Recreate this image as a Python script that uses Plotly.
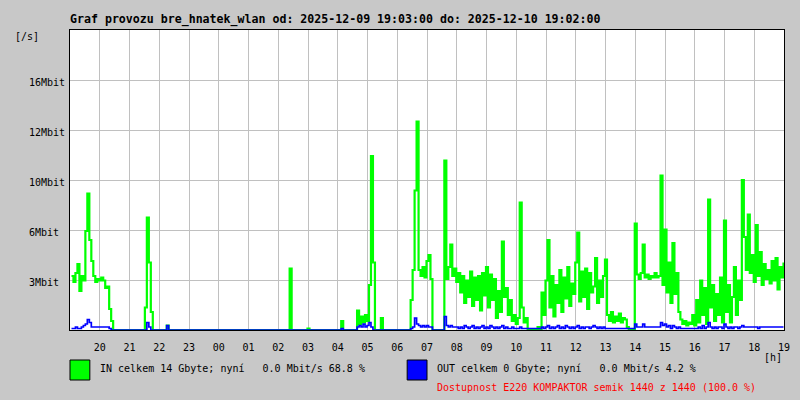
import pandas as pd
import plotly.graph_objects as go

# ---- data (Mbit/s, 4-minute samples starting 2025-12-09 19:03) ----
start_time = "2025-12-09 19:03"
sample_step = "4min"

in_mbit = [
    3.6, 3.2, 3.8, 4.4, 2.6, 3.6, 3.3, 6.6, 9.1, 6.0, 4.6, 3.6, 3.2, 3.4, 3.3, 3.5, 3.3, 2.8, 2.9, 1.4,
    0.6, 0, 0, 0, 0, 0, 0, 0, 0, 0, 0, 0, 0, 0, 0, 0, 0, 1.5, 7.5, 4.5,
    1.2, 0, 0, 0, 0, 0, 0, 0, 0.3, 0, 0, 0, 0, 0, 0, 0, 0, 0, 0, 0,
    0, 0, 0, 0, 0, 0, 0, 0, 0, 0, 0, 0, 0, 0, 0, 0, 0, 0, 0, 0,
    0, 0, 0, 0, 0, 0, 0, 0, 0, 0, 0, 0, 0, 0, 0, 0, 0, 0, 0, 0,
    0, 0, 0, 0, 0, 0, 0, 0, 0, 0, 4.1, 0, 0, 0, 0, 0, 0, 0, 0, 0.1,
    0, 0, 0, 0, 0, 0, 0, 0, 0, 0, 0, 0, 0, 0, 0, 0, 0.6, 0, 0, 0,
    0, 0, 0, 0, 1.3, 0.4, 0.9, 0.5, 1.0, 0.6, 3.0, 11.6, 4.5, 0, 0, 0, 0.8, 0, 0, 0,
    0, 0, 0, 0, 0, 0, 0, 0, 0, 0, 0, 2.0, 4.0, 9.3, 13.9, 4.0, 3.6, 4.2, 3.5, 4.6,
    5.0, 3.4, 0, 0, 0, 0, 0, 0, 11.3, 3.4, 4.2, 5.7, 3.6, 4.1, 3.2, 3.8, 2.5, 3.6, 1.8, 3.3,
    2.2, 3.9, 1.6, 3.5, 2.0, 3.6, 1.3, 3.8, 2.3, 4.2, 1.5, 3.7, 2.0, 3.4, 0.8, 2.6, 1.2, 5.9, 2.2, 2.8,
    1.0, 2.0, 0.6, 1.0, 0.4, 0.8, 8.5, 1.5, 0.5, 0.8, 0, 0, 0, 0, 0, 0.2, 0, 2.5, 1.0, 3.3,
    6.0, 1.5, 3.6, 0.9, 3.0, 1.8, 4.0, 1.2, 3.5, 2.1, 4.2, 1.6, 3.1, 2.4, 4.5, 6.5, 1.9, 3.9, 2.2, 4.1,
    1.4, 3.8, 2.5, 2.9, 4.8, 1.8, 3.3, 2.2, 3.6, 4.7, 1.0, 0.6, 1.2, 0.5, 0.9, 0.6, 1.1, 0.5, 0.8, 0.7,
    0.2, 0, 0, 0, 7.1, 3.7, 3.4, 3.8, 5.7, 3.5, 3.7, 3.4, 3.6, 3.5, 3.8, 3.5, 3.6, 10.3, 3.0, 6.7,
    2.5, 4.5, 1.8, 5.8, 2.4, 3.8, 1.2, 0.7, 0.4, 0.6, 0.3, 0.5, 0.4, 1.0, 0.3, 2.0, 0.5, 3.3, 1.0, 2.8,
    0.4, 8.7, 1.5, 3.0, 0.6, 2.4, 1.0, 3.5, 0.5, 7.3, 1.2, 3.0, 0.5, 2.2, 4.2, 1.0, 3.3, 2.0, 10.0, 6.2,
    4.0, 7.7, 3.8, 5.0, 3.2, 7.0, 3.6, 5.2, 3.0, 4.4, 3.4, 4.0, 3.1, 4.6, 3.3, 4.8, 2.7, 4.2, 3.5, 4.5,
]

out_mbit = [
    0.1, 0.1, 0.2, 0.1, 0.1, 0.2, 0.3, 0.4, 0.7, 0.5, 0.2, 0.2, 0.2, 0.2, 0.2, 0.2, 0.2, 0.2, 0.2, 0.1,
    0, 0, 0, 0, 0, 0, 0, 0, 0, 0, 0, 0, 0, 0, 0, 0, 0, 0, 0.5, 0.2,
    0, 0, 0, 0, 0, 0, 0, 0, 0.3, 0, 0, 0, 0, 0, 0, 0, 0, 0, 0, 0,
    0, 0, 0, 0, 0, 0, 0, 0, 0, 0, 0, 0, 0, 0, 0, 0, 0, 0, 0, 0,
    0, 0, 0, 0, 0, 0, 0, 0, 0, 0, 0, 0, 0, 0, 0, 0, 0, 0, 0, 0,
    0, 0, 0, 0, 0, 0, 0, 0, 0, 0, 0, 0, 0, 0, 0, 0, 0, 0, 0, 0,
    0, 0, 0, 0, 0, 0, 0, 0, 0, 0, 0, 0, 0, 0, 0, 0, 0.1, 0, 0, 0,
    0, 0, 0, 0, 0.2, 0.3, 0.2, 0.4, 0.2, 0.3, 0.5, 0.2, 0, 0, 0, 0, 0, 0, 0, 0,
    0, 0, 0, 0, 0, 0, 0, 0, 0, 0, 0, 0.1, 0.2, 0.8, 0.4, 0.3, 0.2, 0.3, 0.2, 0.3,
    0.2, 0.2, 0, 0, 0, 0, 0, 0, 0.9, 0.3, 0.2, 0.3, 0.2, 0.2, 0.2, 0.1, 0.2, 0.1, 0.3, 0.2,
    0.1, 0.2, 0.3, 0.1, 0.2, 0.1, 0.2, 0.3, 0.1, 0.2, 0.1, 0.3, 0.2, 0.1, 0.2, 0.1, 0.2, 0.3, 0.1, 0.2,
    0.1, 0.1, 0.2, 0.1, 0.1, 0.1, 0.2, 0.1, 0.1, 0.1, 0.1, 0.1, 0.1, 0.1, 0.1, 0.1, 0.1, 0.2, 0.1, 0.2,
    0.3, 0.1, 0.2, 0.1, 0.2, 0.3, 0.1, 0.2, 0.1, 0.3, 0.2, 0.1, 0.2, 0.1, 0.2, 0.3, 0.1, 0.2, 0.1, 0.2,
    0.2, 0.1, 0.2, 0.3, 0.2, 0.1, 0.2, 0.1, 0.2, 0.1, 0.1, 0.1, 0.1, 0.1, 0.1, 0.1, 0.1, 0.1, 0.1, 0.1,
    0.1, 0.1, 0.1, 0.1, 0.4, 0.2, 0.2, 0.2, 0.4, 0.2, 0.2, 0.2, 0.2, 0.2, 0.2, 0.2, 0.2, 0.5, 0.3, 0.4,
    0.2, 0.3, 0.1, 0.3, 0.2, 0.1, 0.2, 0.1, 0.1, 0.1, 0.1, 0.1, 0.1, 0.1, 0.1, 0.1, 0.2, 0.1, 0.3, 0.1,
    0.2, 0.5, 0.2, 0.1, 0.2, 0.1, 0.2, 0.2, 0.1, 0.4, 0.2, 0.1, 0.2, 0.1, 0.2, 0.2, 0.1, 0.2, 0.3, 0.2,
    0.2, 0.2, 0.2, 0.2, 0.2, 0.2, 0.1, 0.2, 0.2, 0.2, 0.2, 0.2, 0.2, 0.2, 0.2, 0.2, 0.2, 0.2, 0.2, 0.2,
]

hour_ticks = ["2025-12-09 20:00", "2025-12-09 21:00", "2025-12-09 22:00", "2025-12-09 23:00",
              "2025-12-10 00:00", "2025-12-10 01:00", "2025-12-10 02:00", "2025-12-10 03:00",
              "2025-12-10 04:00", "2025-12-10 05:00", "2025-12-10 06:00", "2025-12-10 07:00",
              "2025-12-10 08:00", "2025-12-10 09:00", "2025-12-10 10:00", "2025-12-10 11:00",
              "2025-12-10 12:00", "2025-12-10 13:00", "2025-12-10 14:00", "2025-12-10 15:00",
              "2025-12-10 16:00", "2025-12-10 17:00", "2025-12-10 18:00", "2025-12-10 19:00"]
hour_labels = ["20", "21", "22", "23", "00", "01", "02", "03", "04", "05", "06", "07",
               "08", "09", "10", "11", "12", "13", "14", "15", "16", "17", "18", "19"]

y_tick_vals = [10 / 3, 20 / 3, 10, 40 / 3, 50 / 3]
y_tick_labels = ["3Mbit", "6Mbit", "10Mbit", "12Mbit", "16Mbit"]

title_text = "Graf provozu bre_hnatek_wlan od: 2025-12-09 19:03:00 do: 2025-12-10 19:02:00"
in_text = "IN celkem 14 Gbyte; nyní\u00a0\u00a0 0.0 Mbit/s 68.8 %"
out_text = "OUT celkem 0 Gbyte; nyní\u00a0\u00a0 0.0 Mbit/s 4.2 %"
avail_text = "Dostupnost E220 KOMPAKTOR semik 1440 z 1440 (100.0 %)"

times = pd.date_range(start_time, periods=len(in_mbit), freq=sample_step)

FONT = "DejaVu Sans Mono"
W, H = 800, 400
L, R, T, B = 70, 10, 30, 70
PW, PH = W - L - R, H - T - B


def px(xp):
    return (xp - L) / PW


def py(yp):
    return (H - B - yp) / PH


fig = go.Figure()
fig.add_trace(go.Scatter(x=times, y=in_mbit, mode="lines", line=dict(color="#00ff00", width=2.2, shape="hv"),
                         showlegend=False))
fig.add_trace(go.Scatter(x=times, y=out_mbit, mode="lines", line=dict(color="#0000ff", width=1.7, shape="hv"),
                         showlegend=False))

annotations = [
    dict(text="<b>" + title_text + "</b>", x=px(68), y=py(19), xanchor="left", yanchor="middle",
         font=dict(family=FONT, size=11.6, color="black")),
    dict(text="[/s]", x=px(13), y=py(37), xanchor="left", yanchor="middle",
         font=dict(family=FONT, size=10, color="black")),
    dict(text="[h]", x=px(768), y=py(357), xanchor="left", yanchor="middle",
         font=dict(family=FONT, size=10, color="black")),
    dict(text=in_text, x=px(98), y=py(368), xanchor="left", yanchor="middle",
         font=dict(family=FONT, size=10, color="black")),
    dict(text=out_text, x=px(438), y=py(368), xanchor="left", yanchor="middle",
         font=dict(family=FONT, size=10, color="black")),
    dict(text=avail_text, x=px(438), y=py(387), xanchor="left", yanchor="middle",
         font=dict(family=FONT, size=10, color="#ff0000")),
]
for v, lab in zip(y_tick_vals, y_tick_labels):
    annotations.append(dict(text=lab, x=px(27), xref="paper", y=v, yref="y", xanchor="left",
                            yanchor="middle", yshift=-2, showarrow=False,
                            font=dict(family=FONT, size=10, color="black")))
for a in annotations:
    a.setdefault("xref", "paper")
    a.setdefault("yref", "paper")
    a.setdefault("showarrow", False)

shapes = [
    dict(type="rect", xref="paper", yref="paper", x0=px(70), x1=px(90), y0=py(360), y1=py(380),
         fillcolor="#00ff00", line=dict(color="black", width=1)),
    dict(type="rect", xref="paper", yref="paper", x0=px(410), x1=px(430), y0=py(360), y1=py(380),
         fillcolor="#0000ff", line=dict(color="black", width=1)),
]

fig.update_layout(
    width=W, height=H,
    margin=dict(l=L, r=R, t=T, b=B),
    paper_bgcolor="#c8c8c8", plot_bgcolor="white",
    annotations=annotations, shapes=shapes,
    xaxis=dict(range=["2025-12-09 19:00", "2025-12-10 19:00"], tickvals=hour_ticks, ticktext=hour_labels,
               showgrid=True, gridcolor="#c0c0c0", gridwidth=1, showline=True, linecolor="black", linewidth=1,
               mirror=True, ticks="", ticklabelstandoff=8, zeroline=False,
               tickfont=dict(family=FONT, size=10, color="black")),
    yaxis=dict(range=[0, 20], tickvals=y_tick_vals, showticklabels=False, showgrid=True,
               gridcolor="#c0c0c0", gridwidth=1, showline=True, linecolor="black", linewidth=1,
               mirror=True, ticks="", zeroline=False),
)

fig.write_html("out.html", config={"displayModeBar": False},
               post_script="document.body.style.margin='0';document.body.style.background='#c8c8c8';")
